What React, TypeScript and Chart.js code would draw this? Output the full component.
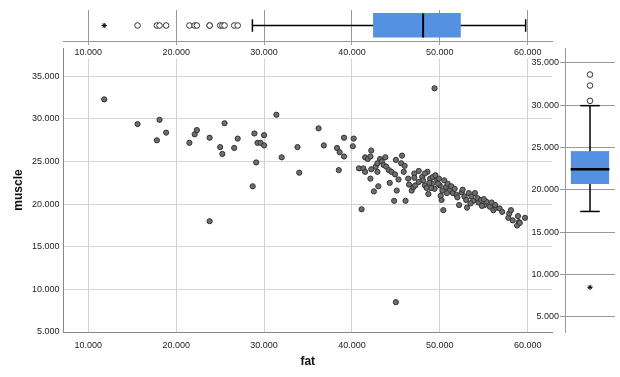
import { useEffect, useRef } from "react";
import { Chart, registerables } from "chart.js";
Chart.register(...registerables);

// ---- data ----
const fat = [
  11.8, 15.6, 18.1, 18.85, 17.8, 21.5, 22.1, 22.35, 23.8, 25.5,
  25.0, 25.25, 26.6, 27.0, 28.9, 29.25, 29.1, 28.7, 23.8, 30.0,
  29.6, 30.0, 31.4, 33.8, 32.0, 34.0, 36.2, 36.8, 39.1, 40.2,
  40.1, 38.3, 38.6, 39.1, 38.5, 41.1, 40.8, 41.3, 41.5, 41.5,
  41.8, 42.2, 42.1, 42.2, 42.1, 42.7, 42.9, 42.9, 43.2, 43.4,
  43.8, 43.6, 43.9, 44.2, 44.5, 44.9, 45.0, 45.3, 44.3, 43.0,
  42.5, 45.1, 44.8, 49.4, 45.0, 45.7, 45.6, 46.0, 45.9, 46.1,
  46.5, 46.8, 47.1, 47.1, 47.0, 47.2, 48.0, 48.1, 48.6, 48.3,
  48.7, 48.9, 49.1, 49.2, 49.4, 49.7, 49.9, 50.0, 50.2, 50.4,
  50.3, 50.7, 50.9, 51.1, 51.5, 51.9, 52.2, 52.5, 52.6, 52.8,
  53.0, 53.1, 53.3, 53.6, 53.8, 54.0, 54.3, 54.4, 54.7, 55.1,
  55.3, 55.7, 55.9, 56.1, 56.4, 56.8, 57.8, 57.9, 58.1, 58.3,
  58.9, 59.0, 59.7, 58.8, 59.1, 47.6, 48.3, 48.8, 49.5, 49.0,
  49.8, 50.5, 50.8, 51.3, 51.7, 47.6, 48.5, 46.4, 50.1, 52.0,
  53.5, 54.8, 56.3, 57.1, 55.0,
];
const muscle = [
  32.3, 29.4, 29.9, 28.4, 27.5, 27.2, 28.2, 28.7, 27.8, 29.5,
  26.7, 25.9, 26.6, 27.7, 28.3, 27.2, 24.9, 22.1, 18.0, 28.1,
  27.2, 26.9, 30.5, 26.7, 25.5, 23.7, 28.9, 26.9, 27.8, 27.7,
  26.8, 26.6, 26.1, 25.6, 24.0, 19.4, 24.2, 24.2, 23.8, 25.5,
  25.3, 26.3, 25.6, 24.1, 23.0, 24.4, 24.8, 23.8, 25.3, 25.0,
  25.5, 24.6, 24.4, 24.0, 23.8, 23.5, 25.2, 22.9, 22.5, 22.1,
  21.5, 21.6, 20.4, 33.6, 8.5, 25.7, 24.8, 24.5, 23.8, 20.4,
  22.3, 21.6, 23.6, 23.1, 22.0, 22.2, 23.2, 22.8, 23.8, 22.2,
  21.2, 23.0, 22.4, 23.2, 21.8, 22.8, 23.0, 22.2, 20.5, 19.3,
  21.6, 22.0, 22.4, 21.6, 21.3, 21.1, 19.9, 21.4, 21.7, 20.9,
  20.5, 19.6, 21.3, 20.9, 20.4, 21.3, 20.7, 20.2, 20.5, 19.9,
  20.3, 19.7, 20.2, 19.3, 19.6, 19.5, 18.4, 18.9, 19.3, 18.1,
  18.6, 17.9, 18.4, 17.5, 17.8, 23.9, 23.6, 22.5, 23.4, 21.9,
  22.4, 22.8, 21.3, 22.1, 21.8, 22.6, 21.9, 23.0, 21.0, 20.8,
  20.1, 19.8, 19.9, 19.1, 20.6,
];
const xTicks = [10, 20, 30, 40, 50, 60];
const yTicks = [5, 10, 15, 20, 25, 30, 35];
// [lower whisker, Q1, median, Q3, upper whisker]
const fatBox = [28.67, 42.4, 48.1, 52.4, 59.77];
const fatOutliers = [15.6, 17.8, 18.1, 18.85, 21.5, 22.1, 22.35, 23.8, 23.8, 25.0, 25.25, 25.5, 26.6, 27.0];
const fatExtremes = [11.8];
const muscleBox = [17.45, 20.69, 22.42, 24.5, 29.93];
const muscleOutliers = [30.5, 32.3, 33.6];
const muscleExtremes = [8.5];

const FONT = "'Liberation Sans', Arial, sans-serif";
const BLUE = "#5590E3";
const fmt = (v: any) => Number(v).toFixed(3);
const setTicks = (arr: number[]) => (s: any) => {
  s.ticks = arr.map((v) => ({ value: v }));
};

function boxDatasets(box: number[], outl: number[], ext: number[], horizontal: boolean, boxHalf: number, capHalf: number, medW: number) {
  const [lo, q1, med, q3, hi] = box;
  const P = (v: number, c: number) => (horizontal ? { x: v, y: c } : { x: c, y: v });
  const line = (data: any[], color: string, w: number, order: number) => ({
    type: "line" as const,
    data,
    borderColor: color,
    borderWidth: w,
    pointRadius: 0,
    fill: false,
    order,
  });
  const boxDs: any = horizontal
    ? { type: "line", data: [{ x: q1, y: boxHalf }, { x: q3, y: boxHalf }], fill: { value: -boxHalf } }
    : { type: "line", data: [{ x: -boxHalf, y: q3 }, { x: boxHalf, y: q3 }], fill: { value: q1 } };
  Object.assign(boxDs, { backgroundColor: BLUE, borderColor: BLUE, borderWidth: 1, pointRadius: 0, order: 3 });
  return [
    line([P(lo, 0), P(hi, 0)], "#000", 1.5, 5),
    line([P(lo, -capHalf), P(lo, capHalf)], "#000", 1.5, 5),
    line([P(hi, -capHalf), P(hi, capHalf)], "#000", 1.5, 5),
    boxDs,
    line([P(med, -boxHalf), P(med, boxHalf)], "#000", medW, 1),
    {
      type: "scatter" as const,
      data: outl.map((v) => P(v, 0)),
      pointStyle: "circle",
      pointRadius: 2.8,
      pointBackgroundColor: "#fff",
      pointBorderColor: "#333",
      pointBorderWidth: 1,
      order: 0,
    },
    {
      type: "scatter" as const,
      data: ext.map((v) => P(v, 0)),
      pointStyle: "star",
      pointRadius: 2.6,
      pointBorderColor: "#000",
      pointBorderWidth: 1,
      order: 0,
    },
  ];
}

export default function App() {
  const mainRef = useRef<HTMLCanvasElement>(null);
  const topRef = useRef<HTMLCanvasElement>(null);
  const rightRef = useRef<HTMLCanvasElement>(null);

  useEffect(() => {
    Chart.defaults.font.family = FONT;
    Chart.defaults.font.size = 9;
    Chart.defaults.color = "#222";
    const common = {
      animation: false as const,
      responsive: false,
      plugins: { legend: { display: false }, tooltip: { enabled: false } },
    };
    const xMin = 7.17;
    const xMax = 62.77;

    const main = new Chart(mainRef.current!, {
      type: "scatter",
      data: {
        datasets: [
          {
            data: fat.map((f, i) => ({ x: f, y: muscle[i] })),
            pointRadius: 2.6,
            pointBackgroundColor: "#6e6e6e",
            pointBorderColor: "#333",
            pointBorderWidth: 1,
          },
        ],
      },
      options: {
        ...common,
        layout: { padding: { top: 48, right: 8, left: 0, bottom: 0 } },
        scales: {
          x: {
            type: "linear",
            min: xMin,
            max: xMax,
            afterBuildTicks: setTicks(xTicks),
            afterFit: (s: any) => { s.height = 45; },
            grid: { color: "#d3d3d3", drawTicks: false },
            border: { color: "#888" },
            ticks: { padding: 8, callback: fmt },
            title: { display: true, text: "fat", font: { size: 12, weight: "bold" }, color: "#111", padding: { top: 0, bottom: 8 } },
          },
          y: {
            type: "linear",
            min: 5,
            max: 38.33,
            afterBuildTicks: setTicks(yTicks),
            afterFit: (s: any) => { s.width = 63.5; },
            grid: { color: "#d3d3d3", drawTicks: false },
            border: { color: "#888" },
            ticks: { padding: 4, callback: fmt },
            title: { display: true, text: "muscle", font: { size: 12, weight: "bold" }, color: "#111", padding: { top: 11, bottom: 0 } },
          },
        },
      } as any,
    });

    const top = new Chart(topRef.current!, {
      type: "scatter",
      data: { datasets: boxDatasets(fatBox, fatOutliers, fatExtremes, true, 0.774, 0.41, 2) as any },
      options: {
        ...common,
        layout: { padding: { top: 10, right: 8, left: 63.5, bottom: 0 } },
        scales: {
          x: {
            type: "linear",
            min: xMin,
            max: xMax,
            afterBuildTicks: setTicks(xTicks),
            afterFit: (s: any) => { s.height = 21; },
            grid: { color: "#999", tickLength: 4 },
            border: { color: "#999" },
            ticks: { padding: 2, callback: fmt, showLabelBackdrop: true, backdropColor: "#fff", backdropPadding: 1 },
          },
          y: { type: "linear", min: -1, max: 1, display: false },
        },
      } as any,
    });

    const right = new Chart(rightRef.current!, {
      type: "scatter",
      data: { datasets: boxDatasets(muscleBox, muscleOutliers, muscleExtremes, false, 0.774, 0.39, 2.5) as any },
      options: {
        ...common,
        layout: { padding: { top: 48, right: 2, left: 0, bottom: 45 } },
        scales: {
          x: { type: "linear", min: -1, max: 1, display: false },
          y: {
            type: "linear",
            min: 3.23,
            max: 36.73,
            afterBuildTicks: setTicks(yTicks),
            afterFit: (s: any) => { s.width = 45; },
            grid: { color: "#999", tickLength: 5 },
            border: { color: "#999" },
            ticks: { padding: 1, callback: fmt },
          },
        },
      } as any,
    });

    return () => {
      main.destroy();
      top.destroy();
      right.destroy();
    };
  }, []);

  return (
    <div style={{ position: "absolute", left: 0, top: 0, width: 620, height: 377, overflow: "hidden", background: "#fff" }}>
      <canvas ref={mainRef} width={560} height={377} style={{ position: "absolute", left: 0, top: 0, width: 560, height: 377 }} />
      <canvas ref={rightRef} width={100} height={377} style={{ position: "absolute", left: 520, top: 0, width: 100, height: 377 }} />
      <canvas ref={topRef} width={560} height={62} style={{ position: "absolute", left: 0, top: 0, width: 560, height: 62 }} />
    </div>
  );
}
